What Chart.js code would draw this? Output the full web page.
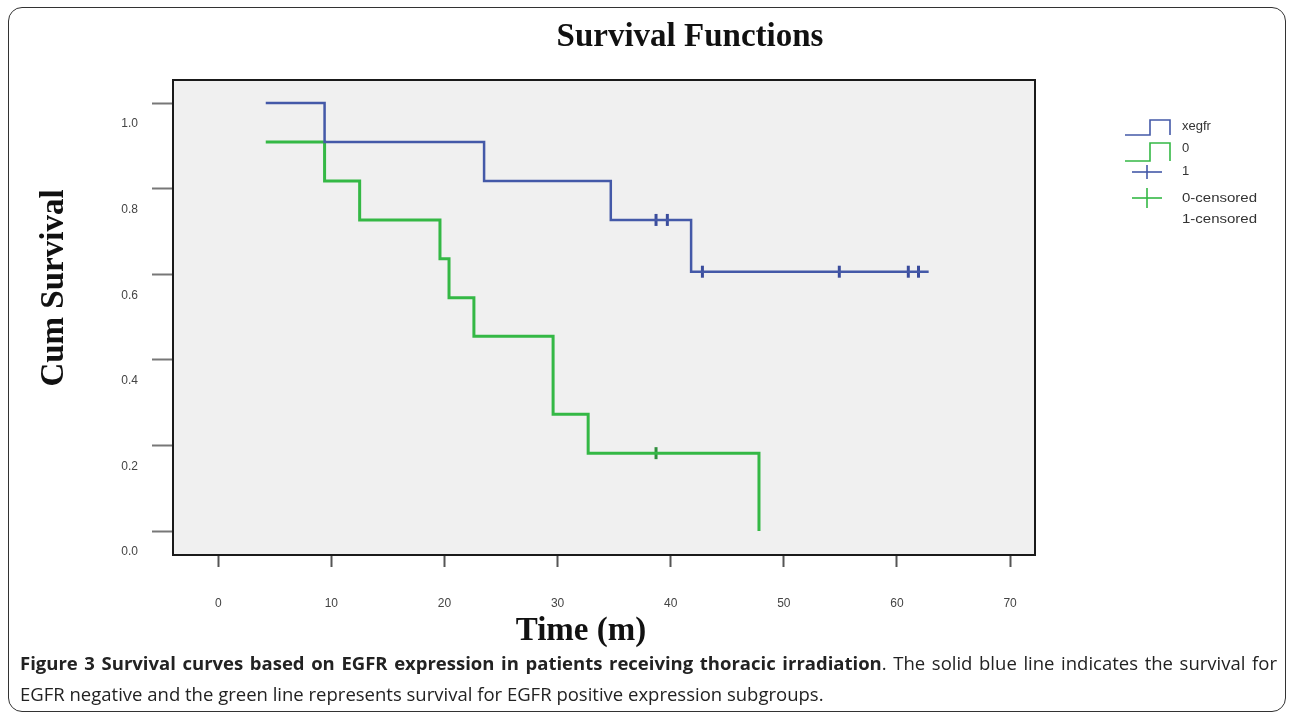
<!DOCTYPE html>
<html>
<head>
<meta charset="utf-8">
<script src="https://cdn.jsdelivr.net/npm/chart.js@4.4.1/dist/chart.umd.min.js"></script>
<style>
body { margin: 0; background: #fff; }
.page { position: relative; width: 1292px; height: 721px; overflow: hidden; background: #fff; }
.frame { position: absolute; left: 8px; top: 7px; width: 1278px; height: 705px; border: 1px solid #333; border-radius: 14px; box-sizing: border-box; }
#km { position: absolute; left: 0; top: 0; }
#labels { position: absolute; left: 0; top: 0; pointer-events: none; }
.caption { position: absolute; left: 20px; width: 1257px; font-family: "Open Sans", "Liberation Sans", sans-serif; font-size: 18.5px; line-height: 25px; color: #222; white-space: nowrap; }
.line1 { top: 650px; text-align: justify; text-align-last: justify; white-space: normal; }
.line2 { top: 681px; }
</style>
</head>
<body>
<div class="page">
  <div class="frame"></div>
  <canvas id="km" width="1100" height="660"></canvas>
  <svg id="labels" width="1292" height="721">
    <g font-family="Liberation Serif, serif" font-weight="bold" fill="#111" font-size="33">
      <text x="690" y="46" text-anchor="middle">Survival Functions</text>
      <text x="581" y="640" text-anchor="middle">Time (m)</text>
      <text transform="translate(63,288) rotate(-90)" text-anchor="middle">Cum Survival</text>
    </g>
    <g fill="none" stroke-width="1.6">
      <polyline points="1125,135 1150,135 1150,120 1170,120 1170,135" stroke="#4459a8"/>
      <polyline points="1125,161 1150,161 1150,143 1170,143 1170,161" stroke="#34b845"/>
      <line x1="1132" y1="172" x2="1162" y2="172" stroke="#4459a8"/>
      <line x1="1147" y1="165" x2="1147" y2="179" stroke="#4459a8"/>
      <line x1="1132" y1="198" x2="1162" y2="198" stroke="#34b845"/>
      <line x1="1147" y1="188" x2="1147" y2="208" stroke="#34b845"/>
    </g>
    <g font-family="Liberation Sans, sans-serif" font-size="13" fill="#333">
      <text x="1182" y="130">xegfr</text>
      <text x="1182" y="152">0</text>
      <text x="1182" y="175">1</text>
      <text x="1182" y="202" textLength="75" lengthAdjust="spacingAndGlyphs">0-censored</text>
      <text x="1182" y="223" textLength="75" lengthAdjust="spacingAndGlyphs">1-censored</text>
    </g>
  </svg>
  <div class="caption line1"><b>Figure 3 Survival curves based on EGFR expression in patients receiving thoracic irradiation</b>. The solid blue line indicates the survival for</div>
  <div class="caption line2">EGFR negative and the green line represents survival for EGFR positive expression subgroups.</div>
</div>
<script>
// survival steps (time in months, cumulative survival)
const blueTimes = [4.2, 9.4, 23.5, 34.7, 41.8, 62.8];
const blueSurv = [1.0, 0.909, 0.818, 0.727, 0.606, 0.606];
const greenTimes = [4.2, 9.4, 12.5, 19.6, 20.4, 22.6, 29.6, 32.7, 47.8];
const greenSurv = [0.909, 0.818, 0.727, 0.636, 0.545, 0.455, 0.273, 0.182, 0.0];
// censored marks
const blueCensorTimes = [38.7, 39.7, 42.8, 54.9, 61.0, 61.9];
const blueCensorSurv = [0.727, 0.727, 0.606, 0.606, 0.606, 0.606];
const greenCensorTimes = [38.7];
const greenCensorSurv = [0.182];
// axis ticks
const xTicks = [0, 10, 20, 30, 40, 50, 60, 70];
const yTicks = [0, 0.2, 0.4, 0.6, 0.8, 1.0];

const BLUE = '#4459a8';
const GREEN = '#34b845';

function pts(xs, ys) {
    return xs.map((x, i) => ({ x: x, y: ys[i] }));
}

// grey plot background and black frame
const plotFrame = {
    id: 'plotFrame',
    beforeDraw(chart) {
        const a = chart.chartArea;
        const ctx = chart.ctx;
        ctx.save();
        ctx.fillStyle = '#f0f0f0';
        ctx.fillRect(a.left, a.top, a.right - a.left, a.bottom - a.top);
        ctx.restore();
    },
    afterDatasetsDraw(chart) {
        const a = chart.chartArea;
        const ctx = chart.ctx;
        ctx.save();
        ctx.strokeStyle = '#1a1a1a';
        ctx.lineWidth = 2;
        ctx.strokeRect(a.left, a.top, a.right - a.left, a.bottom - a.top);
        ctx.restore();
    }
};

const ctx = document.getElementById('km');

new Chart(ctx, {
    type: 'scatter',
    data: {
        datasets: [{
            label: '0',
            data: pts(blueTimes, blueSurv),
            showLine: true,
            stepped: 'before',
            borderColor: BLUE,
            borderWidth: 2.5,
            pointRadius: 0
        }, {
            label: '1',
            data: pts(greenTimes, greenSurv),
            showLine: true,
            stepped: 'before',
            borderColor: GREEN,
            borderWidth: 3,
            pointRadius: 0
        }, {
            label: '0-censored',
            data: pts(blueCensorTimes, blueCensorSurv),
            pointStyle: 'line',
            rotation: 90,
            pointRadius: 6,
            pointBorderWidth: 3,
            pointBorderColor: '#3a4c9c',
            borderColor: '#3a4c9c'
        }, {
            label: '1-censored',
            data: pts(greenCensorTimes, greenCensorSurv),
            pointStyle: 'line',
            rotation: 90,
            pointRadius: 6,
            pointBorderWidth: 3,
            pointBorderColor: '#2f8f3c',
            borderColor: '#2f8f3c'
        }]
    },
    options: {
        responsive: false,
        animation: false,
        layout: {
            padding: { top: 80, right: 65, left: 0, bottom: 0 }
        },
        plugins: {
            legend: { display: false },
            tooltip: { enabled: false }
        },
        scales: {
            x: {
                type: 'linear',
                min: -4,
                max: 72.2,
                afterFit: (scale) => { scale.height = 105; },
                afterBuildTicks: (scale) => { scale.ticks = xTicks.map(v => ({ value: v })); },
                border: { display: false },
                grid: {
                    drawOnChartArea: false,
                    tickLength: 12,
                    tickWidth: 2,
                    tickColor: '#555'
                },
                ticks: {
                    padding: 29,
                    color: '#444',
                    font: { family: 'Liberation Sans', size: 12 },
                    maxRotation: 0,
                    callback: (v) => String(v)
                }
            },
            y: {
                type: 'linear',
                min: -0.056,
                max: 1.054,
                afterFit: (scale) => { scale.width = 173; },
                afterBuildTicks: (scale) => { scale.ticks = yTicks.map(v => ({ value: v })); },
                border: { display: false },
                grid: {
                    drawOnChartArea: false,
                    tickLength: 21,
                    tickWidth: 2,
                    tickColor: '#777'
                },
                ticks: {
                    padding: 14,
                    labelOffset: 21,
                    color: '#444',
                    font: { family: 'Liberation Sans', size: 12 },
                    callback: (v) => v.toFixed(1)
                }
            }
        }
    },
    plugins: [plotFrame]
});
</script>
</body>
</html>
